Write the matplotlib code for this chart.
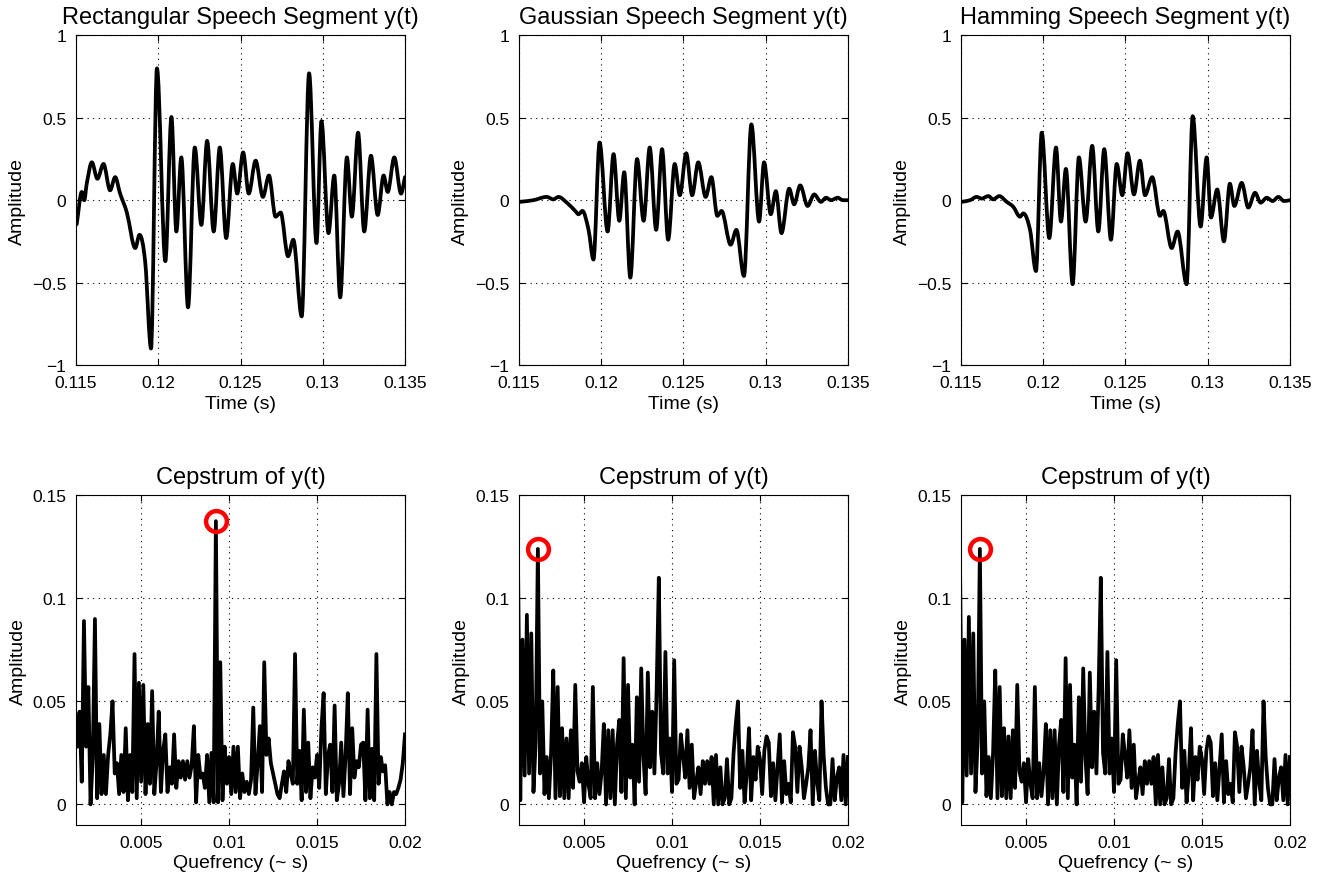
import numpy as np
import matplotlib
matplotlib.use("Agg")
import matplotlib.pyplot as plt
from matplotlib.path import Path
from matplotlib.patches import PathPatch

plt.rcParams['font.family'] = ['Liberation Sans', 'DejaVu Sans']

# SPEECH SEGMENTS (time in s, amplitude), peaks and troughs
t_rect = [0.11504, 0.11535, 0.1155, 0.11565, 0.11596, 0.1163, 0.11667, 0.11707, 0.11738, 0.11768,
          0.11809, 0.1186, 0.11886, 0.11921, 0.11956, 0.11992, 0.12043, 0.1208, 0.1211, 0.1214,
          0.12181, 0.12222, 0.12262, 0.12297, 0.12337, 0.12374, 0.12413, 0.12453, 0.1248, 0.12516,
          0.1255, 0.12592, 0.12636, 0.12673, 0.12713, 0.12744, 0.12789, 0.12821, 0.12872, 0.12917,
          0.12962, 0.12992, 0.13035, 0.1307, 0.13106, 0.13147, 0.13177, 0.13215, 0.13252, 0.13293,
          0.13334, 0.1337, 0.13395, 0.13435, 0.13476, 0.135]
y_rect = [-0.146, 0.05, 0.0, 0.1, 0.23, 0.13, 0.22, 0.06, 0.14, 0.04,
          -0.075, -0.29, -0.21, -0.38, -0.9, 0.80, -0.37, 0.505, -0.19, 0.26,
          -0.65, 0.32, -0.15, 0.36, -0.19, 0.32, -0.23, 0.22, 0.04, 0.29,
          0.04, 0.24, 0.02, 0.15, -0.10, -0.075, -0.34, -0.24, -0.705, 0.77,
          -0.26, 0.48, -0.20, 0.15, -0.59, 0.26, -0.10, 0.41, -0.19, 0.27,
          -0.09, 0.15, 0.05, 0.26, 0.04, 0.14]

t_gauss = [0.11506, 0.11587, 0.11669, 0.11709, 0.1174, 0.11791, 0.11842, 0.11862, 0.11886, 0.11923,
           0.11953, 0.1199, 0.12039, 0.12075, 0.1211, 0.1214, 0.12177, 0.12218, 0.12258, 0.12295,
           0.12334, 0.1237, 0.12407, 0.12447, 0.12478, 0.12517, 0.12553, 0.1259, 0.12635, 0.1267,
           0.12706, 0.12732, 0.12787, 0.12822, 0.12868, 0.12913, 0.1296, 0.1299, 0.13031, 0.13062,
           0.13096, 0.13143, 0.13173, 0.1321, 0.13255, 0.13295, 0.13336, 0.13367, 0.13397, 0.13438,
           0.13469, 0.135]
y_gauss = [-0.01, 0.0, 0.02, 0.005, 0.02, -0.015, -0.065, -0.085, -0.065, -0.18,
           -0.36, 0.35, -0.19, 0.28, -0.125, 0.17, -0.47, 0.25, -0.125, 0.32,
           -0.18, 0.31, -0.24, 0.22, 0.03, 0.285, 0.03, 0.23, 0.02, 0.14,
           -0.095, -0.065, -0.27, -0.18, -0.46, 0.46, -0.13, 0.23, -0.085, 0.055,
           -0.20, 0.07, -0.025, 0.09, -0.035, 0.035, -0.01, 0.015, 0.0, 0.015,
           0.0, 0.0]

t_hamm = [0.11504, 0.11555, 0.11595, 0.11626, 0.11666, 0.11696, 0.11733, 0.11778, 0.11818, 0.11859,
          0.11879, 0.1192, 0.11956, 0.11991, 0.12037, 0.12078, 0.12108, 0.12138, 0.12179, 0.12217,
          0.12258, 0.12298, 0.12335, 0.12371, 0.12412, 0.12447, 0.12481, 0.12513, 0.12552, 0.12588,
          0.12619, 0.12663, 0.1271, 0.1273, 0.12781, 0.12817, 0.12872, 0.12909, 0.12957, 0.12994,
          0.1302, 0.13058, 0.13099, 0.13135, 0.13162, 0.13207, 0.13247, 0.13288, 0.13322, 0.13359,
          0.13395, 0.1343, 0.13464, 0.135]
y_hamm = [-0.01, 0.0, 0.02, 0.01, 0.025, 0.005, 0.025, -0.01, -0.04, -0.1,
          -0.08, -0.18, -0.43, 0.41, -0.23, 0.32, -0.13, 0.19, -0.51, 0.26,
          -0.13, 0.33, -0.19, 0.31, -0.24, 0.22, 0.03, 0.285, 0.035, 0.24,
          0.03, 0.14, -0.095, -0.065, -0.29, -0.19, -0.51, 0.51, -0.16, 0.26,
          -0.105, 0.065, -0.25, 0.10, -0.035, 0.105, -0.045, 0.045, -0.015, 0.015,
          -0.005, 0.02, -0.005, 0.0]

# CEPSTRA, one value per quefrency bin (8 kHz bins from 0.00125 s)
q_start, q_step = 0.00125, 0.000125
ceps_rect = [0.045, 0.028, 0.045, 0.011, 0.089, 0.028, 0.057, 0.000, 0.022, 0.090,
             0.003, 0.039, 0.005, 0.024, 0.005, 0.024, 0.034, 0.050, 0.015, 0.020,
             0.005, 0.024, 0.006, 0.037, 0.002, 0.024, 0.006, 0.073, 0.003, 0.059,
             0.011, 0.058, 0.005, 0.039, 0.010, 0.055, 0.005, 0.020, 0.045, 0.006,
             0.026, 0.034, 0.006, 0.018, 0.010, 0.034, 0.008, 0.021, 0.013, 0.021,
             0.012, 0.021, 0.013, 0.019, 0.038, 0.001, 0.024, 0.013, 0.015, 0.008,
             0.024, 0.001, 0.025, 0.001, 0.1375, 0.001, 0.069, 0.002, 0.028, 0.010,
             0.023, 0.005, 0.028, 0.006, 0.028, 0.003, 0.015, 0.006, 0.011, 0.005,
             0.012, 0.047, 0.005, 0.020, 0.038, 0.006, 0.069, 0.024, 0.032, 0.020,
             0.015, 0.010, 0.005, 0.003, 0.010, 0.016, 0.006, 0.021, 0.015, 0.010,
             0.073, 0.010, 0.026, 0.002, 0.046, 0.006, 0.030, 0.003, 0.018, 0.013,
             0.024, 0.008, 0.037, 0.054, 0.005, 0.024, 0.029, 0.006, 0.048, 0.002,
             0.010, 0.030, 0.004, 0.024, 0.054, 0.005, 0.037, 0.013, 0.021, 0.018,
             0.029, 0.030, 0.002, 0.046, 0.003, 0.027, 0.002, 0.073, 0.010, 0.023,
             0.016, 0.019, 0.000, 0.006, 0.000, 0.006, 0.005, 0.008, 0.012, 0.020,
             0.034]
ceps_gauss = [0.114, 0.002, 0.080, 0.014, 0.092, 0.015, 0.083, 0.006, 0.030, 0.124,
              0.015, 0.050, 0.005, 0.023, 0.003, 0.025, 0.065, 0.003, 0.057, 0.004,
              0.037, 0.003, 0.032, 0.003, 0.036, 0.008, 0.058, 0.016, 0.011, 0.020,
              0.001, 0.023, 0.010, 0.003, 0.057, 0.003, 0.020, 0.005, 0.016, 0.039,
              0.000, 0.036, 0.003, 0.036, 0.000, 0.029, 0.041, 0.006, 0.071, 0.003,
              0.058, 0.013, 0.029, 0.000, 0.052, 0.011, 0.066, 0.023, 0.005, 0.064,
              0.018, 0.045, 0.015, 0.055, 0.110, 0.025, 0.015, 0.074, 0.015, 0.032,
              0.006, 0.070, 0.010, 0.012, 0.034, 0.024, 0.013, 0.036, 0.008, 0.029,
              0.003, 0.011, 0.018, 0.005, 0.021, 0.010, 0.021, 0.010, 0.023, 0.000,
              0.024, 0.000, 0.018, 0.000, 0.003, 0.022, 0.000, 0.003, 0.025, 0.039,
              0.050, 0.008, 0.026, 0.001, 0.015, 0.037, 0.002, 0.023, 0.012, 0.028,
              0.022, 0.005, 0.026, 0.033, 0.030, 0.004, 0.020, 0.002, 0.018, 0.034,
              0.001, 0.021, 0.005, 0.010, 0.001, 0.035, 0.028, 0.006, 0.028, 0.018,
              0.003, 0.010, 0.018, 0.036, 0.000, 0.026, 0.011, 0.002, 0.050, 0.023,
              0.008, 0.000, 0.000, 0.022, 0.002, 0.013, 0.018, 0.002, 0.024, 0.000,
              0.023]
ceps_hamm = [0.114, 0.001, 0.080, 0.014, 0.091, 0.015, 0.083, 0.006, 0.031, 0.124,
             0.015, 0.050, 0.004, 0.023, 0.003, 0.025, 0.065, 0.003, 0.057, 0.004,
             0.037, 0.003, 0.033, 0.003, 0.036, 0.008, 0.058, 0.016, 0.011, 0.020,
             0.001, 0.022, 0.010, 0.003, 0.057, 0.003, 0.020, 0.004, 0.016, 0.039,
             0.000, 0.036, 0.003, 0.036, 0.000, 0.029, 0.041, 0.006, 0.071, 0.003,
             0.058, 0.013, 0.029, 0.000, 0.052, 0.011, 0.066, 0.023, 0.005, 0.064,
             0.018, 0.045, 0.015, 0.056, 0.110, 0.025, 0.015, 0.074, 0.015, 0.032,
             0.006, 0.070, 0.010, 0.012, 0.034, 0.024, 0.013, 0.036, 0.008, 0.029,
             0.003, 0.011, 0.018, 0.005, 0.021, 0.010, 0.021, 0.010, 0.023, 0.000,
             0.024, 0.000, 0.018, 0.000, 0.003, 0.022, 0.000, 0.003, 0.025, 0.039,
             0.050, 0.008, 0.026, 0.001, 0.015, 0.037, 0.002, 0.023, 0.012, 0.028,
             0.022, 0.005, 0.026, 0.033, 0.030, 0.004, 0.020, 0.002, 0.018, 0.034,
             0.001, 0.021, 0.005, 0.010, 0.001, 0.035, 0.028, 0.006, 0.028, 0.018,
             0.003, 0.010, 0.018, 0.036, 0.000, 0.026, 0.011, 0.002, 0.050, 0.023,
             0.008, 0.000, 0.000, 0.022, 0.002, 0.013, 0.018, 0.002, 0.024, 0.000,
             0.023]

seg_titles = ["Rectangular Speech Segment y(t)", "Gaussian Speech Segment y(t)",
              "Hamming Speech Segment y(t)"]
seg_ticks = [0.115, 0.12, 0.125, 0.13, 0.135]
seg_ticklabels = ["0.115", "0.12", "0.125", "0.13", "0.135"]
amp_ticks = [-1, -0.5, 0, 0.5, 1]
amp_ticklabels = ["\u22121", "\u22120.5", "0", "0.5", "1"]
q_ticks = [0.005, 0.01, 0.015, 0.02]
q_ticklabels = ["0.005", "0.01", "0.015", "0.02"]
c_ticks = [0, 0.05, 0.1, 0.15]
c_ticklabels = ["0", "0.05", "0.1", "0.15"]

segments = [(t_rect, y_rect), (t_gauss, y_gauss), (t_hamm, y_hamm)]
cepstra = [ceps_rect, ceps_gauss, ceps_hamm]


def wave_path(t, y):
    # bezier curve through the read peaks/troughs, flat at each extremum
    t = np.asarray(t)
    y = np.asarray(y)
    n = len(t)
    m = np.zeros(n)
    for i in range(n):
        if i == 0:
            m[i] = (y[1] - y[0]) / (t[1] - t[0])
        elif i == n - 1:
            m[i] = (y[-1] - y[-2]) / (t[-1] - t[-2])
        elif (y[i] - y[i - 1]) * (y[i + 1] - y[i]) <= 0:
            m[i] = 0.0
        else:
            m[i] = (y[i + 1] - y[i - 1]) / (t[i + 1] - t[i - 1])
    verts = [(t[0], y[0])]
    codes = [Path.MOVETO]
    for i in range(n - 1):
        d = (t[i + 1] - t[i]) / 3
        verts += [(t[i] + d, y[i] + m[i] * d), (t[i + 1] - d, y[i + 1] - m[i + 1] * d), (t[i + 1], y[i + 1])]
        codes += [Path.CURVE4] * 3
    return Path(verts, codes)


def style(ax):
    ax.grid(True, linestyle=(0, (1, 4)), color='black', linewidth=0.8)
    ax.tick_params(direction='in', length=4, top=True, right=True, labelsize=12.5, pad=7)
    for s in ax.spines.values():
        s.set_linewidth(0.8)


fig = plt.figure(figsize=(13.41, 8.79), dpi=100)
lefts = [0.0567, 0.387, 0.7166]
w, h = 0.2453, 0.375

# TOP ROW: windowed speech segments
for i in range(3):
    ax = fig.add_axes([lefts[i], 0.5836, w, h])
    t, y = segments[i]
    ax.add_patch(PathPatch(wave_path(t, y), facecolor='none', edgecolor='black',
                           linewidth=2.7, joinstyle='round', capstyle='round'))
    ax.set_xlim(0.115, 0.135)
    ax.set_ylim(-1, 1)
    ax.set_xticks(seg_ticks)
    ax.set_xticklabels(seg_ticklabels)
    ax.set_yticks(amp_ticks)
    ax.set_yticklabels(amp_ticklabels)
    ax.set_title(seg_titles[i], fontsize=17, pad=9)
    ax.set_xlabel("Time (s)", fontsize=14, labelpad=4)
    ax.set_ylabel("Amplitude", fontsize=14, labelpad=4)
    style(ax)

# BOTTOM ROW: cepstra with pitch peak circled
for i in range(3):
    ax = fig.add_axes([lefts[i], 0.0603, w, h])
    c = np.array(cepstra[i])
    q = q_start + q_step * np.arange(len(c))
    ax.plot(q, c, color='black', linewidth=2.7, solid_joinstyle='round')
    k = np.argmax(c)
    ax.plot(q[k], c[k], 'o', markersize=15, markerfacecolor='none',
            markeredgecolor='red', markeredgewidth=3.2)
    ax.set_xlim(0.0013, 0.02)
    ax.set_ylim(-0.01, 0.15)
    ax.set_xticks(q_ticks)
    ax.set_xticklabels(q_ticklabels)
    ax.set_yticks(c_ticks)
    ax.set_yticklabels(c_ticklabels)
    ax.set_title("Cepstrum of y(t)", fontsize=17, pad=9)
    ax.set_xlabel("Quefrency (~ s)", fontsize=14, labelpad=3)
    ax.set_ylabel("Amplitude", fontsize=14, labelpad=4)
    style(ax)

fig.savefig("out.png", dpi=100)
